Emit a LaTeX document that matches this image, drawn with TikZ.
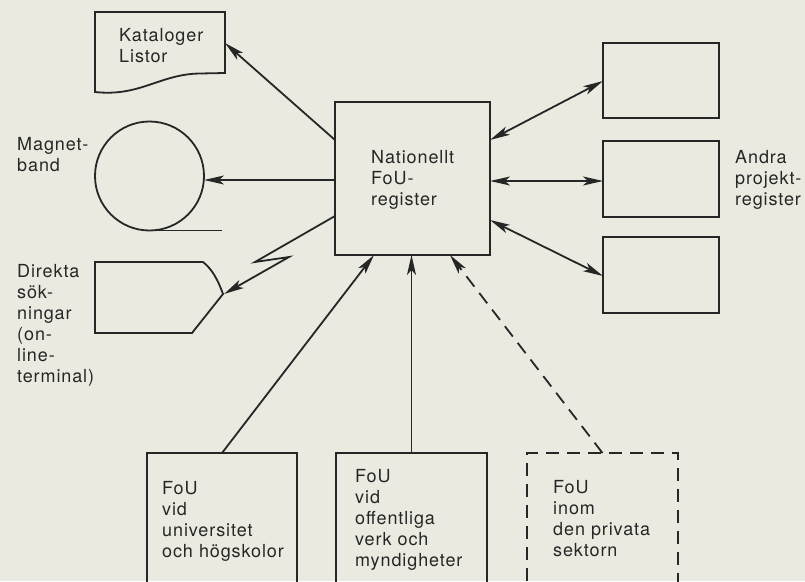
\documentclass[tikz,border=0pt]{standalone}
\usepackage{fontspec}
\setmainfont{TeX Gyre Heros}[LetterSpace=5]
\usetikzlibrary{arrows.meta}
\definecolor{paper}{RGB}{235,234,225}
\definecolor{ink}{RGB}{38,38,38}
\begin{document}
\begin{tikzpicture}[x=1pt,y=-1pt,
  ln/.style={line width=1.8pt, draw=ink},
  box/.style={ln, rectangle, inner sep=0pt, outer sep=0pt},
  arr/.style={ln, -{Stealth[length=20pt,width=9pt,inset=5pt]}},
  darr/.style={ln, {Stealth[length=20pt,width=9pt,inset=5pt]}-{Stealth[length=20pt,width=9pt,inset=5pt]}},
  dsh/.style={dash pattern=on 13pt off 8pt},
  lbl/.style={anchor=base west, align=left, text width=150pt, inner sep=0pt,
    font=\fontsize{18}{21}\selectfont, text=ink},
  ]
\path[fill=paper] (0,0) rectangle (805,581);
\useasboundingbox (0,0) rectangle (805,581);
\clip (0,0) rectangle (805,581);

% central register
\node[box, minimum width=155pt, minimum height=153pt] (nat) at (412.5,178.5) {};
\node[lbl] (natT) at (371,163) {Nationellt\\FoU-\\register};

% other project registers
\node[box, minimum width=116pt, minimum height=75pt] (r1) at (661,80.5) {};
\node[box, minimum width=116pt, minimum height=76pt] (r2) at (661,179) {};
\node[box, minimum width=116pt, minimum height=76pt] (r3) at (661,275) {};
\node[lbl] (andT) at (735,163) {Andra\\projekt-\\register};

% catalogues / lists (document shape)
\draw[ln] (95,12) -- (225,12) -- (225,73) -- (200,73.5)
  .. controls (160,74) and (140,97) .. (95,92) -- cycle;
\coordinate (kat) at (225,43);
\node[lbl] (katT) at (119,41) {Kataloger\\Listor};

% magnetic tape
\node[ln, circle, minimum size=109pt, inner sep=0pt, outer sep=0pt] (tape) at (149.5,176) {};
\draw[ln] (tape.south) ++(-5,0) -- ++(77,0);
\node[lbl] (tapeT) at (17,150) {Magnet-\\band};

% display terminal
\draw[ln] (203,262) -- (95,262) -- (95,333) -- (192,333) -- (223,294)
  .. controls (218,280) and (212,269) .. (203,262);
\coordinate (dir) at (224,294);
\node[lbl] (dirT) at (17,277) {Direkta\\sök-\\ningar\\(on-\\line-\\terminal)};

% bottom sources
\node[box, minimum width=150pt, minimum height=150pt, anchor=north] (bA) at (222,453) {};
\node[box, minimum width=151pt, minimum height=150pt, anchor=north] (bB) at (411.5,453) {};
\node[box, dsh, minimum width=151pt, minimum height=150pt, anchor=north] (bC) at (602.5,453) {};
\node[lbl] (bAT) at (162,494) {FoU\\vid\\universitet\\och högskolor};
\node[lbl] (bBT) at (355,482) {FoU\\vid\\offentliga\\verk och\\myndigheter};
\node[lbl] (bCT) at (553,493) {FoU\\inom\\den privata\\sektorn};

% connectors
\draw[arr] (nat.west |- 0,140) -- (kat);
\draw[arr] (nat.west |- 0,180) -- (tape.east |- 0,180);
\draw[arr] (nat.west |- 0,216) -- (255,262) -- (289,257) -- (dir);
\draw[darr] (nat.east |- 0,140) -- (r1.west |- 0,81);
\draw[darr] (nat.east |- 0,181) -- (r2.west |- 0,181);
\draw[darr] (nat.east |- 0,220) -- (r3.west |- 0,276);
\draw[arr] (bA.north) -- (nat.south -| 374,0);
\draw[arr] (bB.north) -- (nat.south -| bB.north);
\draw[arr, dsh] (bC.north) -- (nat.south -| 450,0);
\end{tikzpicture}
\end{document}
